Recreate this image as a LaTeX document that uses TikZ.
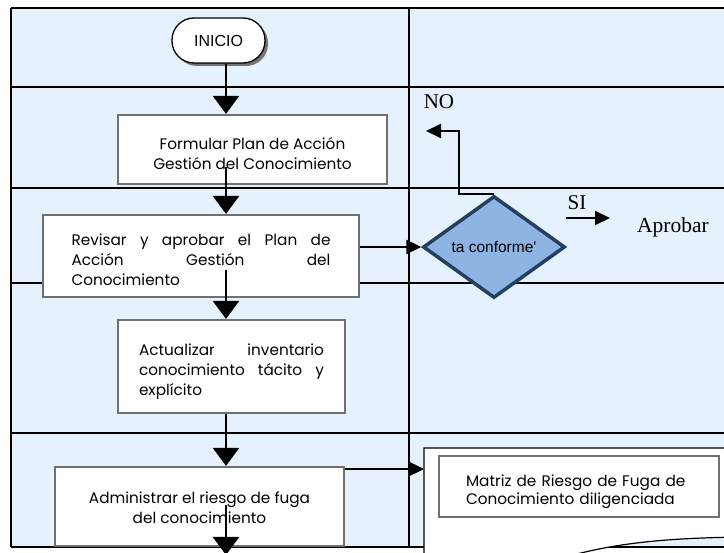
\documentclass[tikz,border=0pt]{standalone}
\usepackage{fontspec}
\setmainfont{Liberation Serif}
\newfontfamily\gothicfont{Poppins}
\newfontfamily\arialfont{Liberation Sans}
\usetikzlibrary{arrows.meta, shapes.geometric, shadows}

\definecolor{lanebg}{RGB}{229,241,253}
\definecolor{boxgray}{RGB}{112,112,112}
\definecolor{diafill}{RGB}{141,180,227}
\definecolor{diadraw}{RGB}{36,63,96}

\begin{document}
\begin{tikzpicture}[x=1pt, y=-1pt,
    grid/.style={line width=2.4pt},
    task/.style={draw=boxgray, line width=2.2pt, fill=white, inner sep=0pt,
        font=\gothicfont\fontsize{15.3}{20}\selectfont},
    down/.style={line width=2.6pt, -{Triangle[length=18pt,width=26pt]}},
    flow/.style={line width=2.4pt, -{Triangle[length=15pt,width=14pt]}},
    lbl/.style={inner sep=0pt, font=\fontsize{21}{24}\selectfont}]
    \useasboundingbox (0,0) rectangle (724,553);
    % lanes
    \fill[lanebg] (11,8) rectangle (740,547);
    \draw[grid] (11,8) -- (740,8);
    \draw[grid] (11,87) -- (740,87);
    \draw[grid] (11,188) -- (740,188);
    \draw[grid] (11,283) -- (740,283);
    \draw[grid] (11,433) -- (740,433);
    \draw[grid] (11,547) -- (740,547);
    \draw[grid] (11,8) -- (11,547);
    \draw[grid] (409,8) -- (409,547);
    % output document
    \draw[line width=1.2pt, fill=white] (424,580) -- (424,448) -- (740,448) -- (740,537)
        .. controls (680,538) and (630,541) .. (581,553)
        .. controls (540,563) and (480,575) .. (424,580) -- cycle;
    \node[draw=boxgray, line width=2.2pt, fill=white, text width=226pt, inner xsep=27pt,
        inner ysep=0pt, minimum height=61pt, align=left,
        font=\gothicfont\fontsize{15.3}{18}\selectfont] (matriz) at (579,486.5)
        {\rule{0pt}{22pt}\mbox{Matriz de Riesgo de Fuga de}\\Conocimiento diligenciada};
    % activities
    \node[draw, line width=1.3pt, fill=white, rounded corners=22pt, minimum width=93pt,
        minimum height=45pt, drop shadow={shadow xshift=3pt, shadow yshift=-3pt, fill=black!55, opacity=1},
        font=\arialfont\fontsize{16}{18}\selectfont] (inicio) at (218.5,40.5) {INICIO};
    \node[task, minimum width=269pt, minimum height=69pt, align=center] (formular) at (252.5,149.5)
        {\rule{0pt}{20pt}Formular Plan de Acción\\Gestión del Conocimiento};
    \node[task, minimum width=316pt, minimum height=82pt, text width=259pt, align=left] (revisar) at (201,256)
        {\rule{0pt}{20pt}Revisar\hfill y\hfill aprobar\hfill el\hfill Plan\hfill de\\Acción\hfill Gestión\hfill del\\Conocimiento};
    \node[task, minimum width=227pt, minimum height=93pt, text width=185pt, align=left] (actualizar) at (231.5,366.5)
        {\rule{0pt}{21pt}Actualizar\hfill inventario\\conocimiento\hfill tácito\hfill y\\explícito};
    \node[task, minimum width=289pt, minimum height=79pt, align=center] (administrar) at (199.5,506.5)
        {\rule{0pt}{15pt}Administrar el riesgo de fuga\\del conocimiento};
    \node[diamond, draw=diadraw, fill=diafill, line width=3.5pt, minimum width=142pt, minimum height=102pt,
        inner sep=0pt, aspect=1.4, font=\arialfont\fontsize{15.5}{17}\selectfont] (conforme) at (494,247) {ta conforme'};
    \node[lbl] (no) at (439,102) {NO};
    \node[lbl] (si) at (577,203) {SI};
    \node[lbl, font=\fontsize{21.5}{24}\selectfont] (aprobar) at (673,227) {Aprobar};
    % connectors
    \coordinate (spine) at (226,0);
    \coordinate (f1) at (226,167);
    \coordinate (r1) at (226,270);
    \coordinate (a1) at (226,505);
    \coordinate (a2) at (226,555);
    \coordinate (nobend) at (459,131);
    \coordinate (noend) at (426,131);
    \coordinate (sistart) at (566,218);
    \coordinate (siend) at (610,218);
    \coordinate (docin) at (424,469);
    \draw[down] (inicio.south -| spine) -- (formular.north -| spine);
    \draw[down] (f1) -- (revisar.north -| spine);
    \draw[down] (r1) -- (actualizar.north -| spine);
    \draw[down] (actualizar.south -| spine) -- (administrar.north -| spine);
    \draw[down] (a1) -- (a2);
    \draw[flow] (revisar.east |- conforme.west) -- (conforme.west);
    \draw[flow, line width=2pt] (conforme.north) -| (nobend) -- (noend);
    \draw[flow, line width=2pt] (sistart) -- (siend);
    \draw[flow] (administrar.east |- docin) -- (docin);
\end{tikzpicture}
\end{document}
